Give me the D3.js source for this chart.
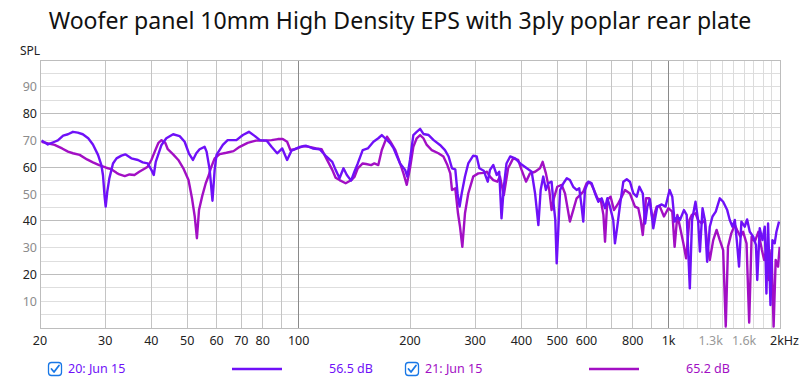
<!DOCTYPE html>
<html><head><meta charset="utf-8">
<script src="https://cdn.jsdelivr.net/npm/d3@7"></script>
<style>body{margin:0;background:#fff}svg{display:block}text{font-family:"Noto Sans","Open Sans",sans-serif}</style>
</head><body><svg id="c" width="800" height="380"></svg>
<script>
const title = "Woofer panel 10mm High Density EPS with 3ply poplar rear plate";
const yTicks = [10,20,30,40,50,60,70,80,90];
const xTickVals = [20,30,40,50,60,70,80,100,200,300,400,500,600,800,1000,1300,1600,2000];
const xTickLabels = ["20","30","40","50","60","70","80","100","200","300","400","500","600","800","1k","1.3k","1.6k","2kHz"];
const seriesNames = ["20: Jun 15","21: Jun 15"];
const seriesLevels = ["56.5 dB","65.2 dB"];

const freq1 = [20.2,21.0,21.45,21.9,22.35,23.1,23.8,24.55,25.3,26.1,27.0,27.8,28.7,29.3,29.6,29.9,30.1,30.4,30.8,31.5,32.2,33.2,34.0,35.3,36.8,37.9,39.1,40.0,40.6,41.1,42.0,42.6,43.9,45.8,47.7,49.2,50.5,51.8,52.9,54.0,55.7,56.4,57.5,58.5,59.3,60.0,62.4,64.3,67.9,70.7,73.4,76.2,78.6,82.0,84.5,87.5,90.3,93.1,95.7,100.8,104.8,109.2,114,118.8,123.3,125.9,129,132.2,135,138.6,141.5,144.5,149,153.8,159.3,164.2,167.8,171.3,177,180.7,184.5,188,194,196.7,200,204.2,208.5,213,217.4,224.6,231.7,241,248.6,254.3,259.7,265.1,268.9,272.3,275.9,281.6,287.4,296.4,302.9,308,316.4,324.4,329,335.9,343,348.5,353.5,358.6,364.6,373,384.8,397,413.8,426.5,435.6,444.6,451,458.3,466,472.7,482.7,487.6,494,498.3,502.8,509,519.7,530.8,541,552.3,564.1,573.4,581.9,587.9,594.1,606.4,619.5,632.6,645.8,659.3,673.2,683,694,708.5,716,726.5,739,754.5,770.6,786,803,820,833.6,851.5,863.8,876,890,909,932,958,981,1006,1023,1038,1056,1073,1100,1119,1141,1157,1182,1201,1215,1235,1253,1271,1292,1314,1341,1375,1404,1440,1463,1488,1510,1531,1550,1573,1606,1630,1657,1693,1722,1736,1763,1793,1819,1838,1857,1885,1908,1935,1956,1988];
const spl1 = [70,68.5,69,69.5,70,71.8,72.3,73.2,72.9,72.3,70.8,68.5,64.6,60.8,57,49,45.3,50.9,55.9,61.4,63.3,64.3,64.8,63.3,62.7,61.8,61.4,59,57.1,62,65.8,68.3,70.8,72.3,71.6,69.5,65.2,62.7,65.2,66.7,67.6,65.8,59,47.5,59,64.6,68.3,70.1,70.1,72,73.2,71.6,70.1,69.9,67.6,65.2,67,62.7,66.2,67.6,68,67,66.7,64,62,59,55.9,59.6,57.1,55,58.3,61.4,66.4,67,69.5,70.8,72,70.8,68.9,67,64,61.4,59,56.5,62.7,72,73.2,74.3,72.4,72,70.1,68.3,66.4,64,59.6,59.2,50.2,45.3,50.2,56.5,61.4,64.3,64,59.6,58.7,54.6,59,60.8,57.1,58.3,40.9,52.7,61.4,64,63.3,61.4,59.6,58.3,50.2,38.4,51.5,56.5,51.5,54,54.6,47.8,40.3,24.1,35.3,51.5,54,55.9,55.2,52.7,51.5,52.1,45.3,39.7,51.5,54.6,54,50.2,47.1,48.4,44.7,48.4,45.3,40.3,31.6,37.8,45.9,54.6,55.5,54.6,50.2,49,52.7,50.2,39,45.3,48,37.2,45.3,46.1,45.3,51.5,49,39.7,41.6,40.3,44,42.2,14.8,40.3,47.1,40.3,28.5,44.7,40.3,24.7,37.8,41.6,43.4,48.4,47.1,44,40.3,37.8,40.3,31.6,22.9,39.7,37.8,40.5,35.9,34.1,31,17.9,37.2,32.8,37.8,12.9,39,8.6,32.8,31.6,35.9,39.7];

const freq2 = [20.2,21.0,21.9,22.95,23.8,24.55,25.6,26.8,27.8,28.9,30.2,31.1,32.2,32.8,33.9,34.9,36.0,37.1,38.2,39.1,40.0,40.9,41.8,42.6,43.6,44.3,45.8,47.3,48.8,50.4,51.5,52.4,53.1,53.8,54.9,56.1,57.2,57.9,59.3,61.2,63.8,66.7,69.3,72.8,76.6,80.6,84.5,87.9,90.6,93.1,95,97.7,103.1,107,111.5,115.4,118.8,123.3,125.9,129,134,139,141.7,144.5,149,152.2,157,160.2,164.2,167.8,173.3,177,182.6,188,192,196,200,204.2,208.5,213,217.4,222,229,238.6,246.2,252.4,257,259.7,265.1,269.6,273,277,281.6,287.4,296.4,305.9,316.4,323,329,335.9,344.4,350,358.6,368.3,380,392,400.5,411.7,422,435.6,449,456.6,466,475.7,482.7,489.6,500,514,524.8,541,552.3,564.1,576,587.9,600.3,615.6,628.7,641.8,655.4,666.4,673.2,683,697,711.7,731,747,762.5,786,811,828,840.5,851.5,869,886.5,905.5,928.5,947,971.5,998,1023,1038,1056,1073,1096,1115,1138,1155,1182,1201,1228,1253,1271,1292,1320,1348,1375,1404,1427,1447,1477,1510,1531,1563,1590,1624,1651,1676,1710,1748,1787,1812,1838,1868,1897,1922,1947,1976,1996];
const spl2 = [69.5,68.9,68.3,67,65.8,65.2,64.6,62.9,61.8,60.8,59.8,59.3,57.9,57.3,56.7,57.3,57.1,58.3,59.3,60.2,62.7,66,69.1,70.1,69.1,66.7,64.8,62.7,59.6,55.2,48.4,41.5,33.5,44,49.3,54,57.1,59.6,63.3,64.9,65.4,66,67.6,69.1,69.9,69.9,70.1,70.5,70.5,69.5,66.4,66.7,67.9,67.6,67,66.7,63.3,59,56.1,55.2,54,55.2,56.5,59.6,61.4,61.2,60.8,61.4,60.8,66.4,71.4,69.5,66.4,61.4,57.7,53.4,59.6,67.6,70.8,72,70.8,68.3,66.4,65.2,64,60.8,57.7,51.5,52.1,42.8,37.8,30.3,42.8,50.2,56.5,57.7,57.9,58.3,56.5,55.2,54.6,56.5,49.6,59.6,63.3,62.7,59,54.6,57.7,58.3,59.6,62,57.7,51.5,44,48.4,52.7,53.4,50.2,39.7,44,48.4,49.6,50.9,54,54.2,51.5,48.4,47.8,42.2,32.2,47.8,49,44,46.5,49,51.5,50.2,45.3,44.7,40.3,34.7,48.4,48.4,40.3,45.3,45.3,41.6,44.7,43.4,30.3,42.2,37.8,31.6,26,40.3,42.2,42.8,40.3,39,40.3,31.6,25.4,32.8,36.6,32.8,29.1,0.5,30.3,35.3,38.4,36.6,34.1,35.9,31.6,2,34.1,32.2,35.9,29.1,25.4,29.1,17.9,29.1,0.5,25.4,22.9,30.3];

const colors = ["#6f10f8","#a20fc4"];
const svg = d3.select("#c");
const L=40,R=780,T=60,B=328;
const x = d3.scaleLog().domain([20,2000]).range([L,R]);
const y = d3.scaleLinear().domain([0,100]).range([B,T]);

// grid
const g = svg.append("g");
const hVals = d3.range(5,100,5);
hVals.forEach(v=>{
  g.append("line").attr("x1",L).attr("x2",R).attr("y1",y(v)).attr("y2",y(v))
   .attr("stroke", v%20===0 ? "#bdbdbd" : "#dedede").attr("stroke-width",1).attr("shape-rendering","crispEdges");
});
const vVals = [];
for(let f=30;f<=90;f+=10) vVals.push(f);
for(let f=200;f<=900;f+=100) vVals.push(f);
for(let f=1100;f<=1900;f+=100) vVals.push(f);
vVals.forEach(f=>{
  g.append("line").attr("x1",x(f)).attr("x2",x(f)).attr("y1",T).attr("y2",B)
   .attr("stroke", f>1000 ? "#dcdcdc" : "#c4c4c4").attr("stroke-width",1).attr("shape-rendering","crispEdges");
});
[100,1000].forEach(f=>{
  g.append("line").attr("x1",x(f)).attr("x2",x(f)).attr("y1",T).attr("y2",B)
   .attr("stroke","#8a8a8a").attr("stroke-width",1).attr("shape-rendering","crispEdges");
});
g.append("rect").attr("x",L).attr("y",T).attr("width",R-L).attr("height",B-T)
 .attr("fill","none").attr("stroke","#bdbdbd").attr("shape-rendering","crispEdges");

// y labels
yTicks.forEach(v=>{
  svg.append("text").attr("x",37).attr("y",y(v)+4.5).attr("text-anchor","end")
   .attr("font-size",12.5).attr("fill", v%20===0 ? "#222" : "#8c8c8c").text(v);
});
svg.append("text").attr("x",20).attr("y",55).attr("font-size",12).attr("fill","#222").text("SPL");

// x labels
xTickVals.forEach((f,i)=>{
  const lab = xTickLabels[i];
  const t = svg.append("text").attr("y",345).attr("font-size",12.5)
   .attr("fill", (f===1300||f===1600) ? "#999" : "#222").text(lab);
  if(lab==="2kHz") t.attr("x",x(f)-10).attr("text-anchor","start");
  else t.attr("x",x(f)).attr("text-anchor","middle");
});

// title
const tt = svg.append("text").attr("x",400).attr("y",29).attr("text-anchor","middle")
  .attr("font-size",22).attr("fill","#111").text(title);
const w = tt.node().getComputedTextLength();
tt.attr("font-size", 22*703/w);

// curves
svg.append("clipPath").attr("id","clip").append("rect").attr("x",L).attr("y",T).attr("width",R-L).attr("height",B-T);
const line = d3.line().x(d=>x(d[0])).y(d=>y(d[1]));
const data = [d3.zip(freq1,spl1), d3.zip(freq2,spl2)];
[1,0].forEach(i=>{
  svg.append("path").attr("clip-path","url(#clip)").attr("d",line(data[i]))
   .attr("fill","none").attr("stroke",colors[i]).attr("stroke-width",2.4).attr("stroke-linejoin","round");
});

// legend
const lg = [{cx:48,tx:68,lx1:232,lx2:282,vx:329},{cx:405,tx:425,lx1:589,lx2:639,vx:686}];
lg.forEach((p,i)=>{
  const gg = svg.append("g");
  gg.append("rect").attr("x",p.cx+0.5).attr("y",362.5).attr("width",13).attr("height",13).attr("rx",3)
    .attr("fill","#fff").attr("stroke","#1877e6").attr("stroke-width",1.3);
  gg.append("path").attr("d",`M${p.cx+3.5},${369} L${p.cx+6},${372} L${p.cx+11},${365.5}`)
    .attr("fill","none").attr("stroke","#1877e6").attr("stroke-width",1.8).attr("stroke-linecap","round").attr("stroke-linejoin","round");
  gg.append("text").attr("x",p.tx).attr("y",373).attr("font-size",12.5).attr("fill",colors[i]).text(seriesNames[i]);
  gg.append("line").attr("x1",p.lx1).attr("x2",p.lx2).attr("y1",369).attr("y2",369).attr("stroke",colors[i]).attr("stroke-width",2.4);
  gg.append("text").attr("x",p.vx).attr("y",373).attr("font-size",12.5).attr("fill",colors[i]).text(seriesLevels[i]);
});
</script></body></html>
